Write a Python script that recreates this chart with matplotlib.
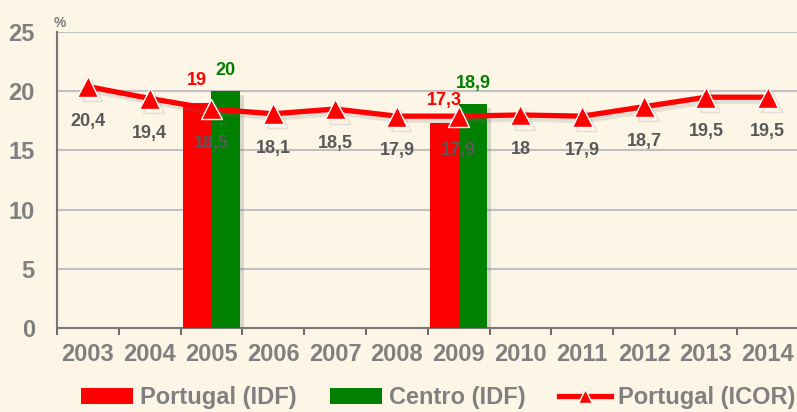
import numpy as np
import matplotlib
matplotlib.use("Agg")
import matplotlib.pyplot as plt
import matplotlib.patheffects as pe
from matplotlib.lines import Line2D
from matplotlib.patches import Patch

# Data
years = ["2003", "2004", "2005", "2006", "2007", "2008",
         "2009", "2010", "2011", "2012", "2013", "2014"]
icor_portugal = [20.4, 19.4, 18.5, 18.1, 18.5, 17.9, 17.9, 18.0, 17.9, 18.7, 19.5, 19.5]
idf_years = ["2005", "2009"]
idf_portugal = [19.0, 17.3]
idf_centro = [20.0, 18.9]

def fmt(v):
    # Portuguese decimal comma, drop trailing ",0"
    s = ("%.1f" % v).replace(".", ",")
    return s[:-2] if s.endswith(",0") else s

bg = "#FDF6E7"
grey_tick = "#808080"
grey_lab = "#595959"
red = "#FF0000"
green = "#008000"

plt.rcParams["font.family"] = ["Liberation Sans", "DejaVu Sans"]
plt.rcParams["font.weight"] = "bold"

fig = plt.figure(figsize=(7.97, 4.12), dpi=100, facecolor=bg)
ax = fig.add_axes([0.0715, 0.204, 0.9305, 0.718])
ax.set_facecolor(bg)

x = np.arange(len(years))
bar_w = 0.46
shadow = [pe.SimplePatchShadow(offset=(3, -3), alpha=0.25, shadow_rgbFace="#777777"), pe.Normal()]

bx = np.array([years.index(y) for y in idf_years])
b1 = ax.bar(bx - bar_w / 2, idf_portugal, bar_w, color=red, zorder=3, path_effects=shadow)
b2 = ax.bar(bx + bar_w / 2, idf_centro, bar_w, color=green, zorder=3, path_effects=shadow)
for xi, v in zip(bx - bar_w / 2, idf_portugal):
    ax.annotate(fmt(v), (xi, v), xytext=(0, 10), textcoords="offset points",
                ha="center", va="bottom", color=red, fontsize=13, fontweight="bold", zorder=6)
for xi, v in zip(bx + bar_w / 2, idf_centro):
    ax.annotate(fmt(v), (xi, v), xytext=(0, 9), textcoords="offset points",
                ha="center", va="bottom", color=green, fontsize=13, fontweight="bold", zorder=6)

ax.plot(x, icor_portugal, color=red, lw=3.8, marker="^", markersize=15,
        markerfacecolor=red, markeredgecolor="white", markeredgewidth=1.0, zorder=4,
        path_effects=[pe.SimpleLineShadow(offset=(3, -3), alpha=0.18, shadow_color="#777777"), pe.Normal()])
for xi, v in zip(x, icor_portugal):
    ax.annotate(fmt(v), (xi, v), xytext=(0, -25), textcoords="offset points",
                ha="center", va="center", color=grey_lab, fontsize=13, fontweight="bold", zorder=6)

ax.set_xlim(-0.5, len(years) - 0.5)
ax.set_ylim(0, 25)
ax.set_yticks(range(0, 26, 5))
ax.yaxis.grid(True, color="#C0C0C0", lw=1.5, zorder=0)
ax.tick_params(axis="y", length=0, pad=16, labelsize=17, labelcolor=grey_tick)

ax.set_xticks(np.arange(-0.5, len(years)), labels=[])
ax.set_xticks(x, labels=years, minor=True)
ax.tick_params(axis="x", which="major", length=5, width=1.2, color="#555555")
ax.tick_params(axis="x", which="minor", length=0, pad=11, labelsize=17, labelcolor=grey_tick)

for s in ["top", "right"]:
    ax.spines[s].set_visible(False)
for s in ["left", "bottom"]:
    ax.spines[s].set_color("#777777")
    ax.spines[s].set_linewidth(1.5)

fig.text(0.075, 0.945, "%", color=grey_tick, fontsize=10, ha="center", va="center")

handles = [Patch(facecolor=red), Patch(facecolor=green),
           Line2D([], [], color=red, lw=3.8, marker="^", markersize=10,
                  markerfacecolor=red, markeredgecolor="white")]
fig.legend(handles, ["Portugal (IDF)", "Centro (IDF)", "Portugal (ICOR)"],
           loc="lower center", bbox_to_anchor=(0.55, -0.045), ncol=3, frameon=False,
           fontsize=17, labelcolor=grey_tick, handlelength=2.2, handletextpad=0.3,
           columnspacing=1.4)

fig.savefig("out.png", dpi=100, facecolor=bg)
